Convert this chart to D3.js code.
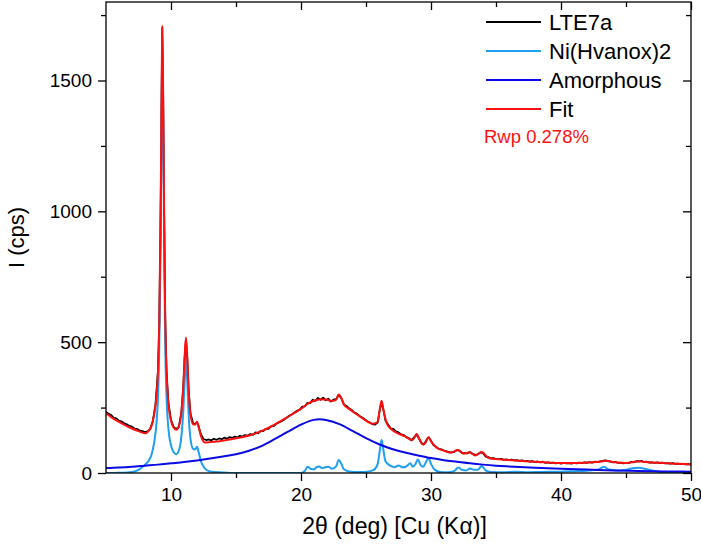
<!DOCTYPE html>
<html>
<head>
<meta charset="utf-8">
<script src="https://cdn.jsdelivr.net/npm/d3@7"></script>
<style>
  html, body { margin: 0; padding: 0; background: #fff; }
  svg { display: block; font-family: "Liberation Sans", Arial, sans-serif; }
</style>
</head>
<body>
<svg id="chart" width="701" height="550"></svg>
<script>
// ---------------- data ----------------
const xTicksMajor = [10, 20, 30, 40, 50];
const xTicksMinor = [15, 25, 35, 45];
const yTicksMajor = [0, 500, 1000, 1500];
const yTicksMinor = [250, 750, 1250, 1750];

const seriesNames = ["LTE7a", "Ni(Hvanox)2", "Amorphous", "Fit"];
const seriesColors = ["#000000", "#1E9FEF", "#0A0AE6", "#FF1010"];
const rwpLabel = "Rwp 0.278%";

// observed pattern LTE7a : [2theta, I]
const obsData = [
[5.0,234],[5.2,226],[5.4,221],[5.6,211],[5.8,209],[6.0,199],[6.2,197],[6.4,190],[6.6,186],[6.8,180],
[7.0,177],[7.2,170],[7.4,168],[7.6,162],[7.8,160],[8.0,156],[8.2,159],[8.4,168],[8.6,198],[8.8,258],
[9.0,390],[9.1,578],[9.2,975],[9.27,1395],[9.33,1700],[9.4,1425],[9.47,995],[9.55,605],[9.65,395],[9.8,268],
[10.0,203],[10.2,176],[10.4,168],[10.6,176],[10.8,232],[10.95,330],[11.05,440],[11.15,512],[11.25,440],[11.35,322],
[11.5,226],[11.7,190],[11.85,186],[12.0,194],[12.1,182],[12.3,148],[12.5,130],[12.7,126],[12.9,128],[13.1,125],
[13.3,131],[13.5,127],[13.7,132],[13.9,129],[14.1,135],[14.3,131],[14.5,137],[14.7,134],[14.9,139],[15.1,136],
[15.3,142],[15.5,139],[15.7,145],[15.9,142],[16.1,149],[16.3,146],[16.5,155],[16.7,152],[16.9,161],[17.1,160],
[17.3,169],[17.5,169],[17.7,178],[17.9,179],[18.1,188],[18.3,193],[18.5,198],[18.7,204],[18.9,211],[19.1,219],
[19.3,224],[19.5,231],[19.7,238],[19.9,242],[20.1,254],[20.3,255],[20.5,268],[20.7,267],[20.9,280],[21.1,275],
[21.3,287],[21.5,280],[21.7,288],[21.9,278],[22.1,284],[22.3,273],[22.5,280],[22.7,282],[22.9,298],[23.1,286],
[23.3,262],[23.5,256],[23.7,247],[23.9,241],[24.1,231],[24.3,227],[24.5,218],[24.7,212],[24.9,205],[25.1,198],
[25.3,193],[25.5,187],[25.7,185],[25.9,193],[26.05,238],[26.2,272],[26.35,238],[26.5,200],[26.7,185],[26.9,170],
[27.1,169],[27.3,159],[27.5,155],[27.7,148],[27.9,145],[28.1,137],[28.3,133],[28.5,125],[28.7,136],[28.9,147],
[29.1,130],[29.3,112],[29.5,113],[29.7,130],[29.85,136],[30.0,122],[30.2,106],[30.4,100],[30.6,92],[30.8,90],
[31.0,86],[31.2,83],[31.4,79],[31.6,79],[31.8,81],[32.0,88],[32.2,84],[32.4,76],[32.6,76],[32.8,75],
[33.0,80],[33.2,73],[33.4,69],[33.6,71],[33.8,79],[34.0,76],[34.2,63],[34.4,61],[34.6,56],[34.8,57],
[35.0,53],[35.2,53],[35.4,54],[35.6,50],[35.8,52],[36.0,49],[36.2,51],[36.4,48],[36.6,49],[36.8,46],
[37.0,48],[37.2,45],[37.4,46],[37.6,43],[37.8,45],[38.0,42],[38.2,44],[38.4,41],[38.6,43],[38.8,39],
[39.0,41],[39.2,38],[39.4,40],[39.6,37],[39.8,39],[40.0,36],[40.2,39],[40.4,37],[40.6,38],[40.8,36],
[41.0,39],[41.2,37],[41.4,40],[41.6,38],[41.8,41],[42.0,39],[42.2,42],[42.4,40],[42.6,43],[42.8,42],
[43.0,44],[43.2,46],[43.4,48],[43.6,45],[43.8,44],[44.0,41],[44.2,42],[44.4,39],[44.6,40],[44.8,37],
[45.0,39],[45.2,38],[45.4,42],[45.6,41],[45.8,45],[46.0,44],[46.2,46],[46.4,42],[46.6,43],[46.8,40],
[47.0,41],[47.2,39],[47.4,41],[47.6,38],[47.8,40],[48.0,37],[48.2,38],[48.4,36],[48.6,38],[48.8,35],
[49.0,36],[49.2,34],[49.4,35],[49.6,33],[49.8,34],[50.0,32]
];

// Ni(Hvanox)2 phase contribution
const niData = [
[5.0,0],[6.0,1],[7.0,4],[7.5,12],[8.0,32],[8.3,48],[8.5,70],[8.7,115],[8.9,200],[9.0,290],
[9.1,480],[9.2,880],[9.27,1310],[9.33,1610],[9.4,1330],[9.47,900],[9.55,510],[9.65,300],[9.8,170],[10.0,105],
[10.2,80],[10.4,72],[10.6,85],[10.8,140],[10.95,240],[11.05,350],[11.15,425],[11.25,350],[11.35,230],[11.5,130],
[11.7,92],[11.85,90],[12.0,100],[12.1,85],[12.3,45],[12.6,18],[13.0,6],[14.0,2],[15.0,0],[20.0,0],
[20.3,8],[20.5,24],[20.8,15],[21.0,14],[21.2,22],[21.4,25],[21.6,19],[21.8,21],[22.1,24],[22.4,16],
[22.7,25],[22.9,50],[23.1,35],[23.3,14],[23.7,6],[24.5,4],[25.2,6],[25.6,12],[25.9,35],[26.1,100],
[26.2,126],[26.3,100],[26.5,45],[26.8,30],[27.0,25],[27.2,22],[27.5,29],[27.8,22],[28.1,25],[28.4,37],
[28.6,24],[28.8,34],[29.0,52],[29.2,30],[29.4,24],[29.6,40],[29.8,57],[30.0,35],[30.3,12],[30.7,4],
[31.3,3],[31.8,8],[32.1,21],[32.4,12],[32.7,10],[33.0,17],[33.3,12],[33.6,12],[33.9,27],[34.2,10],
[34.6,4],[35.5,3],[36.5,5],[37.5,3],[38.5,4],[40.0,5],[41.0,7],[42.0,9],[42.8,12],[43.3,24],
[43.7,13],[44.3,10],[45.0,12],[45.5,18],[46.0,20],[46.5,15],[47.0,10],[47.5,5],[48.0,1],[50.0,0]
];

// Amorphous hump
const amData = [
[5,19],[6,21],[7,24],[8,28],[9,32],[10,37],[11,42],[12,48],[13,55],[14,63],
[15,72],[16,85],[17,104],[18,130],[19,158],[20,185],[21,203],[21.4,205],[22,202],[23,186],
[24,160],[25,133],[26,110],[27,92],[28,78],[29,67],[30,57],[31,49],[32,43],[33,37],
[34,32],[35,28],[36,25],[38,20],[40,16],[42,13],[44,10],[46,8],[48,6],[50,5]
];

// Rietveld fit
const fitData = [
[5.0,228],[5.5,210],[6.0,195],[6.5,182],[7.0,170],[7.5,160],[8.0,152],[8.3,162],[8.5,180],[8.7,222],
[8.9,304],[9.0,392],[9.1,581],[9.2,980],[9.27,1405],[9.33,1710],[9.4,1430],[9.47,1000],[9.55,610],[9.65,398],
[9.8,266],[10.0,200],[10.2,174],[10.4,165],[10.6,178],[10.8,233],[10.95,333],[11.05,443],[11.15,518],[11.25,443],
[11.35,323],[11.5,224],[11.7,186],[11.85,185],[12.0,196],[12.1,181],[12.3,142],[12.6,117],[13.0,118],[13.5,120],
[14.0,124],[14.5,128],[15.0,133],[16.0,143],[17.0,161],[18.0,186],[19.0,215],[20.0,245],[20.5,264],[21.0,276],
[21.5,282],[22.0,280],[22.4,275],[22.7,280],[22.9,300],[23.1,287],[23.3,262],[23.7,245],[24.0,234],[24.5,217],
[25.0,200],[25.5,188],[25.9,195],[26.05,240],[26.2,276],[26.35,240],[26.6,190],[27.0,165],[27.5,150],[28.0,140],
[28.4,128],[28.6,127],[28.9,149],[29.1,130],[29.4,108],[29.6,118],[29.8,137],[30.0,122],[30.4,98],[31.0,85],
[31.5,78],[32.1,88],[32.5,74],[33.0,79],[33.4,67],[33.9,80],[34.4,58],[35.0,53],[36.0,50],[37.0,46],
[38.0,43],[39.0,40],[40.0,38],[41.0,38],[42.0,40],[43.0,43],[43.5,47],[44.0,42],[45.0,38],[45.5,42],
[46.0,45],[46.5,42],[47.0,40],[48.0,38],[49.0,35],[50.0,33]
];

// ---------------- chart ----------------
const svg = d3.select("#chart");
const m = { left: 106, right: 10, top: 2, bottom: 77 };
const W = 701, H = 550;
const x = d3.scaleLinear().domain([5, 50]).range([m.left, W - m.right]);
const y = d3.scaleLinear().domain([0, 1800]).range([H - m.bottom, m.top]);

const x0 = x.range()[0], x1 = x.range()[1], y0 = y.range()[0], y1 = y.range()[1];

svg.append("defs").append("clipPath").attr("id", "clip")
  .append("rect").attr("x", x0).attr("y", y1).attr("width", x1 - x0).attr("height", y0 - y1);

const plot = svg.append("g").attr("clip-path", "url(#clip)");

const lineLin = d3.line().x(d => x(d[0])).y(d => y(d[1]));
const lineSmooth = d3.line().x(d => x(d[0])).y(d => y(d[1])).curve(d3.curveMonotoneX);

plot.append("path").datum(obsData).attr("d", lineLin)
  .attr("fill", "none").attr("stroke", seriesColors[0]).attr("stroke-width", 1.8).attr("stroke-linejoin", "round");
plot.append("path").datum(niData).attr("d", lineSmooth)
  .attr("fill", "none").attr("stroke", seriesColors[1]).attr("stroke-width", 2);
plot.append("path").datum(amData).attr("d", lineSmooth)
  .attr("fill", "none").attr("stroke", seriesColors[2]).attr("stroke-width", 2);
plot.append("path").datum(fitData).attr("d", lineSmooth)
  .attr("fill", "none").attr("stroke", seriesColors[3]).attr("stroke-width", 2).attr("stroke-linejoin", "round");

const tickFont = "19px";
function styleAxis(g) {
  g.select(".domain").remove();
  g.selectAll("line").attr("stroke", "#000").attr("stroke-width", 1.3);
  g.selectAll("text").attr("fill", "#000").style("font-size", tickFont)
    .style("font-family", '"Liberation Sans", Arial, sans-serif');
}
const fmt = d3.format("d");

svg.append("g").attr("transform", `translate(0,${y0})`)
  .call(d3.axisBottom(x).tickValues(xTicksMajor).tickFormat(fmt).tickSize(8).tickPadding(7))
  .call(styleAxis);
svg.append("g").attr("transform", `translate(0,${y0})`)
  .call(d3.axisBottom(x).tickValues(xTicksMinor).tickFormat("").tickSize(5))
  .call(styleAxis);
svg.append("g").attr("transform", `translate(0,${y1})`)
  .call(d3.axisBottom(x).tickValues(xTicksMajor).tickFormat("").tickSize(8))
  .call(styleAxis);
svg.append("g").attr("transform", `translate(0,${y1})`)
  .call(d3.axisBottom(x).tickValues(xTicksMinor).tickFormat("").tickSize(5))
  .call(styleAxis);
svg.append("g").attr("transform", `translate(${x0},0)`)
  .call(d3.axisLeft(y).tickValues(yTicksMajor).tickFormat(fmt).tickSize(8).tickPadding(6))
  .call(styleAxis);
svg.append("g").attr("transform", `translate(${x0},0)`)
  .call(d3.axisLeft(y).tickValues(yTicksMinor).tickFormat("").tickSize(5))
  .call(styleAxis);
svg.append("g").attr("transform", `translate(${x1},0)`)
  .call(d3.axisLeft(y).tickValues(yTicksMajor).tickFormat("").tickSize(8))
  .call(styleAxis);
svg.append("g").attr("transform", `translate(${x1},0)`)
  .call(d3.axisLeft(y).tickValues(yTicksMinor).tickFormat("").tickSize(5))
  .call(styleAxis);

svg.append("rect").attr("x", x0).attr("y", y1).attr("width", x1 - x0).attr("height", y0 - y1)
  .attr("fill", "none").attr("stroke", "#000").attr("stroke-width", 1.3);

svg.append("text").attr("x", (x0 + x1) / 2 - 4).attr("y", 534).attr("text-anchor", "middle")
  .style("font-size", "23px").attr("fill", "#000").text("2θ (deg) [Cu (Kα)]");
svg.append("text").attr("transform", `translate(24,${(y0 + y1) / 2}) rotate(-90)`)
  .attr("text-anchor", "middle").style("font-size", "22px").attr("fill", "#000").text("I (cps)");

const leg = svg.append("g");
seriesNames.forEach((name, i) => {
  const cy = 22 + i * 29;
  leg.append("line").attr("x1", 486).attr("x2", 541).attr("y1", cy).attr("y2", cy)
    .attr("stroke", seriesColors[i]).attr("stroke-width", 1.8);
  leg.append("text").attr("x", 549).attr("y", cy + 8).style("font-size", "22px")
    .attr("fill", "#000").text(name);
});
leg.append("text").attr("x", 484).attr("y", 143).style("font-size", "18.5px")
  .attr("fill", "#FF1010").text(rwpLabel);
</script>
</body>
</html>
